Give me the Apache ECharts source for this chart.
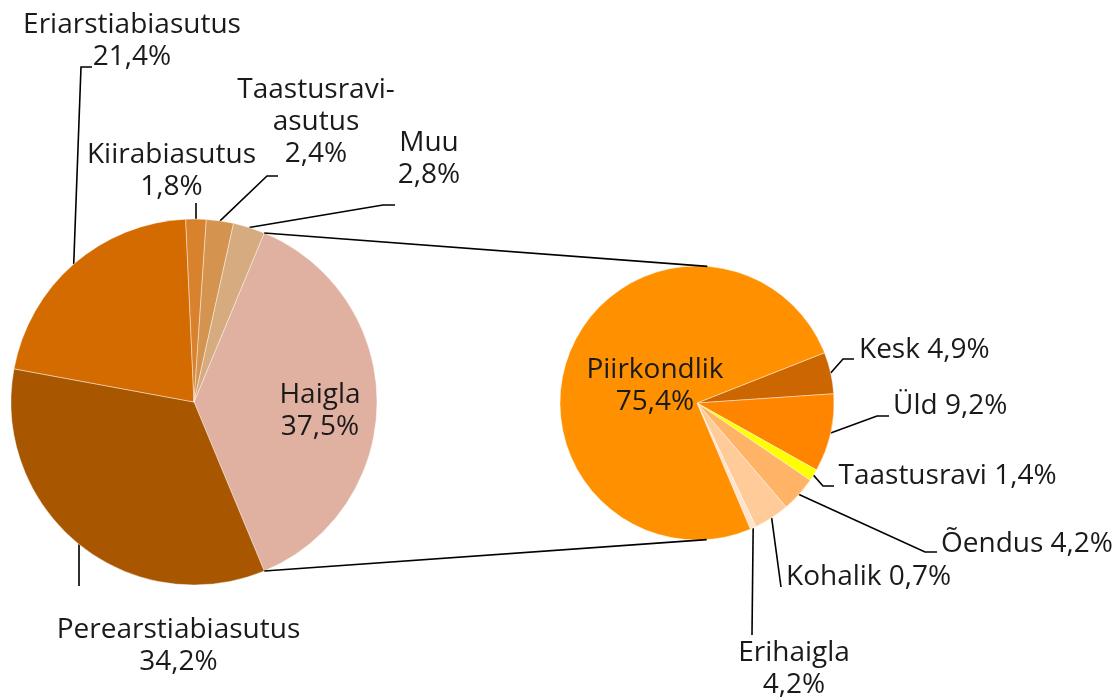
<!DOCTYPE html>
<html><head><meta charset="utf-8">
<script src="https://cdn.jsdelivr.net/npm/echarts@6/dist/echarts.min.js"></script>
<style>html,body{margin:0;padding:0;background:#fff}#c{width:1117px;height:697px}</style>
</head><body><div id="c"></div>
<script>
// ---- data ----
const mainCategories = ['Haigla', 'Perearstiabiasutus', 'Eriarstiabiasutus', 'Kiirabiasutus', 'Taastusravi-asutus', 'Muu'];
const mainValues = [37.5, 34.2, 21.4, 1.8, 2.4, 2.8];
const subCategories = ['Kesk', 'Üld', 'Taastusravi', 'Õendus', 'Erihaigla', 'Kohalik', 'Piirkondlik'];
const subValues = [4.9, 9.2, 1.4, 4.2, 4.2, 0.7, 75.4];

// ---- styles ----
const FONT = '"Open Sans", sans-serif';
const mainColors = ['#E0B0A0', '#A85600', '#D46B00', '#D9822E', '#D4934F', '#D5AB7F'];
const subColors = ['#CC6600', '#FF8500', '#FFFF00', '#FFB366', '#FFCC99', '#FFE2CC', '#FF9100'];

const L = { cx: 194, cy: 402, r: 183 };
const R = { cx: 697, cy: 403, r: 137 };

const total = a => a.reduce((s, v) => s + v, 0);
const mainTotal = total(mainValues), subTotal = total(subValues);
const mainStart = mainValues[0] / mainTotal * 360 / 2;   // split slice centred on 3 o'clock
const subStart = 21.5;

function midAngle(values, tot, start, i) {
  let c = 0; for (let k = 0; k < i; k++) c += values[k];
  return start - (c + values[i] / 2) / tot * 360;
}
function edgePoint(g, deg) {
  const t = deg * Math.PI / 180;
  return [g.cx + g.r * Math.cos(t), g.cy - g.r * Math.sin(t)];
}
const pct = v => v.toFixed(1).replace('.', ',') + '%';

// label placement (text anchor + leader bends)
const mainLayout = {
  'Haigla':             { x: 320,   y: 411,   align: 'center', sep: '\n' },
  'Perearstiabiasutus': { x: 178.5, y: 646,   align: 'center', sep: '\n', line: [[79, 586]] },
  'Eriarstiabiasutus':  { x: 132,   y: 41.5,  align: 'center', sep: '\n', line: [[81, 67], [92, 67]] },
  'Kiirabiasutus':      { x: 171.5, y: 171.5, align: 'center', sep: '\n', line: [[196, 203]] },
  'Taastusravi-asutus': { x: 316,   y: 122,   align: 'center', sep: '\n', line: [[267, 176], [278, 176]] },
  'Muu':                { x: 429,   y: 159,   align: 'center', sep: '\n', line: [[383, 205], [395, 205]] }
};
const subLayout = {
  'Kesk':        { x: 859,   y: 350,   align: 'left', sep: ' ', line: [[843, 359], [854, 359]] },
  'Üld':         { x: 893,   y: 406,   align: 'left', sep: ' ', line: [[877, 416], [889, 416]] },
  'Taastusravi': { x: 838.5, y: 476,   align: 'left', sep: ' ', line: [[823, 486], [834, 486]] },
  'Õendus':      { x: 941,   y: 543.7, align: 'left', sep: ' ', line: [[925, 552], [937, 552]] },
  'Erihaigla':   { x: 794,   y: 668.7, align: 'center', sep: '\n', anchor: 'Kohalik', line: [[752, 635]] },
  'Kohalik':     { x: 786,   y: 577.5, align: 'left', sep: ' ', anchor: 'Erihaigla', line: [[781, 587]] },
  'Piirkondlik': { x: 655,   y: 386,   align: 'center', sep: '\n' }
};

function makeSeries(cats, vals, colors, layout, geom, start, tot) {
  return {
    type: 'pie',
    center: [geom.cx, geom.cy],
    radius: geom.r,
    startAngle: start,
    clockwise: true,
    avoidLabelOverlap: false,
    silent: true,
    animation: false,
    emphasis: { disabled: true },
    itemStyle: { borderColor: 'rgba(255,255,255,0.7)', borderWidth: 0.6 },
    label: {
      show: true,
      position: 'outside',
      width: 600,
      fontFamily: FONT,
      fontSize: 28,
      lineHeight: 32,
      color: '#1a1a1a',
      formatter: p => {
        const o = layout[p.name];
        return p.name.replace('-', '-\n') + o.sep + pct(p.value);
      }
    },
    labelLine: { show: true, smooth: false, lineStyle: { color: '#000', width: 1.6 } },
    labelLayout: p => {
      const name = cats[p.dataIndex];
      const o = layout[name];
      const res = { x: o.x, y: o.y, align: o.align, verticalAlign: 'middle' };
      if (o.line) {
        const ai = cats.indexOf(o.anchor || name);
        const a = edgePoint(geom, midAngle(vals, tot, start, ai));
        res.labelLinePoints = [a].concat(o.line);
      }
      return res;
    },
    data: cats.map((n, i) => ({
      name: n,
      value: vals[i],
      itemStyle: { color: colors[i] },
      labelLine: layout[n].line ? undefined : { show: false }
    }))
  };
}

// connector lines: from split-slice edges to tangent points of the secondary pie
function tangent(P, g, upper) {
  const dx = g.cx - P[0], dy = g.cy - P[1];
  const d = Math.hypot(dx, dy);
  const th = Math.atan2(dy, dx);
  const al = Math.asin(g.r / d);
  const dir = upper ? th - al : th + al;
  const len = Math.sqrt(d * d - g.r * g.r);
  return [P[0] + len * Math.cos(dir), P[1] + len * Math.sin(dir)];
}
const splitDeg = mainValues[0] / mainTotal * 360;
const pTop = edgePoint(L, mainStart);
const pBot = edgePoint(L, mainStart - splitDeg);
const connectors = [
  [pTop, tangent(pTop, R, true)],
  [pBot, tangent(pBot, R, false)]
];

const chart = echarts.init(document.getElementById('c'), null, { renderer: 'canvas' });
chart.setOption({
  backgroundColor: '#fff',
  animation: false,
  series: [
    makeSeries(mainCategories, mainValues, mainColors, mainLayout, L, mainStart, mainTotal),
    makeSeries(subCategories, subValues, subColors, subLayout, R, subStart, subTotal)
  ],
  graphic: connectors.map(pts => ({
    type: 'polyline',
    silent: true,
    z: 10,
    shape: { points: pts },
    style: { stroke: '#000', lineWidth: 1.6, fill: null }
  }))
});
</script>
</body></html>
